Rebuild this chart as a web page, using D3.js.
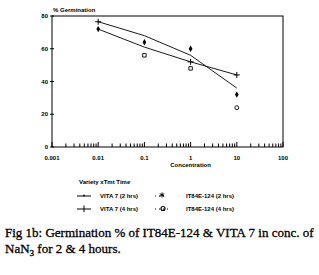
<!DOCTYPE html>
<html lang="en">
<head>
<meta charset="utf-8" />
<title>Germination chart</title>
<script src="https://d3js.org/d3.v7.min.js"></script>
<style>
body { margin: 0; background: #fff; }
svg { display: block; }
.tick-lbl { font-family: 'Liberation Sans', Arial, sans-serif; font-size: 6px; font-weight: bold; }
.cap { font-family: 'Liberation Serif', 'Times New Roman', serif; font-size: 13px; stroke: #000; stroke-width: 0.3px; }
</style>
</head>
<body>
<svg id="chart" width="319" height="275"></svg>
<script>
// data
var conc = [0.01, 0.1, 1, 10];
var lineUpper = [76.5, 68, 56, 36];   // VITA 7 fitted line (starts high)
var lineLower = [72, 61, 52, 44];     // VITA 7 fitted line (starts low)
var vitaPlus = [76.5, null, 52, 44];  // + markers
var it2h = [72, 64, 60, 32];          // IT84E-124 (2 hrs)
var it4h = [null, 56, 48, 24];        // IT84E-124 (4 hrs)
var xTicks = [0.001, 0.01, 0.1, 1, 10, 100];
var xTickLabels = ['0.001', '0.01', '0.1', '1', '10', '100'];
var yTicks = [0, 20, 40, 60, 80];

var svg = d3.select('#chart');
var plotL = 52, plotR = 283, plotT = 16, plotB = 147;

var x = d3.scaleLog().domain([0.001, 100]).range([plotL, plotR]);
var y = d3.scaleLinear().domain([0, 80]).range([plotB, plotT]);

// frame
svg.append('rect')
  .attr('x', plotL).attr('y', plotT)
  .attr('width', plotR - plotL).attr('height', plotB - plotT)
  .attr('fill', 'none').attr('stroke', '#000').attr('stroke-width', 1);

// x minor/major ticks pointing into plot
var minor = [];
for (var e = -3; e < 2; e++) {
  for (var m = 1; m < 10; m++) minor.push(m * Math.pow(10, e));
}
minor.push(100);
svg.append('g').selectAll('line').data(minor).enter().append('line')
  .attr('x1', d => x(d)).attr('x2', d => x(d))
  .attr('y1', plotB).attr('y2', (d, i) => i % 9 === 0 ? plotB - 5 : plotB - 3.5)
  .attr('stroke', '#000').attr('stroke-width', 1);

svg.append('g').selectAll('text').data(xTicks).enter().append('text')
  .attr('class', 'tick-lbl')
  .attr('x', d => x(d)).attr('y', 160)
  .attr('text-anchor', 'middle')
  .text((d, i) => xTickLabels[i]);

svg.append('text').attr('class', 'tick-lbl')
  .attr('x', x(1)).attr('y', 167).attr('text-anchor', 'middle')
  .text('Concentration');

// y ticks
svg.append('g').selectAll('line').data(yTicks).enter().append('line')
  .attr('x1', plotL - 2).attr('x2', plotL + 2)
  .attr('y1', d => y(d)).attr('y2', d => y(d))
  .attr('stroke', '#000');
svg.append('g').selectAll('text').data(yTicks).enter().append('text')
  .attr('class', 'tick-lbl')
  .attr('x', plotL - 4).attr('y', d => y(d) + 2)
  .attr('text-anchor', 'end')
  .text(d => d);

svg.append('text').attr('class', 'tick-lbl')
  .attr('x', plotL + 1).attr('y', 12)
  .text('% Germination');

// lines
var line = d3.line().x((d, i) => x(conc[i])).y(d => y(d));
[lineUpper, lineLower].forEach(function (s) {
  svg.append('path').datum(s)
    .attr('d', line)
    .attr('fill', 'none').attr('stroke', '#000').attr('stroke-width', 0.9);
});

// markers
function pts(arr) {
  return arr.map((v, i) => ({ c: conc[i], v: v, i: i })).filter(d => d.v != null);
}
svg.append('g').selectAll('path').data(pts(vitaPlus)).enter().append('path')
  .attr('transform', d => `translate(${x(d.c)},${y(d.v)})`)
  .attr('d', 'M-3,0H3M0,-3V3')
  .attr('stroke', '#000').attr('stroke-width', 1);

svg.append('g').selectAll('path').data(pts(it2h)).enter().append('path')
  .attr('transform', d => `translate(${x(d.c)},${y(d.v)})`)
  .attr('d', d3.symbol().type(d3.symbolDiamond).size(12))
  .attr('fill', '#000');

svg.append('g').selectAll('path').data(pts(it4h)).enter().append('path')
  .attr('transform', d => `translate(${x(d.c)},${y(d.v)})`)
  .attr('d', d => d3.symbol().type(d.i === 3 ? d3.symbolCircle : d3.symbolSquare).size(12)())
  .attr('fill', 'none').attr('stroke', '#000').attr('stroke-width', 0.9);

// legend
var lg = svg.append('g');
lg.append('text').attr('class', 'tick-lbl').attr('x', 79).attr('y', 184).text('Variety xTmt Time');

lg.append('line').attr('x1', 77).attr('x2', 91).attr('y1', 196).attr('y2', 196).attr('stroke', '#000');
lg.append('circle').attr('cx', 84).attr('cy', 195.5).attr('r', 0.9).attr('fill', '#000');
lg.append('text').attr('class', 'tick-lbl').attr('x', 100).attr('y', 198).text('VITA 7 (2 hrs)');

lg.append('line').attr('x1', 77).attr('x2', 91).attr('y1', 209).attr('y2', 209).attr('stroke', '#000');
lg.append('path').attr('d', 'M84,205.5V212').attr('stroke', '#000');
lg.append('text').attr('class', 'tick-lbl').attr('x', 100).attr('y', 211).text('VITA 7 (4 hrs)');

lg.append('line').attr('x1', 155).attr('x2', 164).attr('y1', 196).attr('y2', 196)
  .attr('stroke', '#000').attr('stroke-dasharray', '1,3');
lg.append('path').attr('transform', 'translate(162,195)')
  .attr('d', d3.symbol().type(d3.symbolAsterisk).size(18)).attr('stroke', '#000').attr('fill', 'none');
lg.append('text').attr('class', 'tick-lbl').attr('x', 186).attr('y', 198).text('IT84E-124 (2 hrs)');

lg.append('line').attr('x1', 155).attr('x2', 168).attr('y1', 209).attr('y2', 209)
  .attr('stroke', '#000').attr('stroke-dasharray', '1,3');
lg.append('circle').attr('cx', 163).attr('cy', 208.5).attr('r', 2).attr('fill', 'none').attr('stroke', '#000').attr('stroke-width', 1.2);
lg.append('text').attr('class', 'tick-lbl').attr('x', 186).attr('y', 211).text('IT84E-124 (4 hrs)');

// caption
svg.append('text').attr('class', 'cap').attr('x', 5).attr('y', 237)
  .text('Fig 1b: Germination % of IT84E-124 & VITA 7 in conc. of');
var t2 = svg.append('text').attr('class', 'cap').attr('x', 5).attr('y', 253);
t2.append('tspan').text('NaN');
t2.append('tspan').attr('font-size', '9px').attr('dy', 3).text('3');
t2.append('tspan').attr('dy', -3).text(' for 2 & 4 hours.');
</script>
</body>
</html>
